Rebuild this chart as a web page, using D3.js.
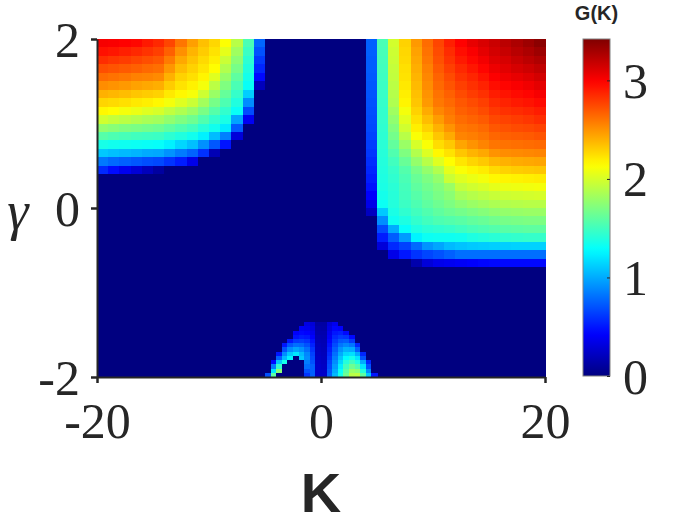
<!DOCTYPE html>
<html>
<head>
<meta charset="utf-8">
<script src="https://cdn.jsdelivr.net/npm/d3@7"></script>
<style>
  html, body { margin: 0; padding: 0; background: #fff; }
  svg { display: block; }
</style>
</head>
<body>
<div id="chart"></div>
<script>
// grid cell centres (K along columns, gamma along rows, top row first)
const kCenters = [-19.5,-18.5,-17.5,-16.5,-15.5,-14.5,-13.5,-12.5,-11.5,-10.5,-9.5,-8.5,-7.5,-6.5,-5.5,-4.5,-3.5,-2.5,-1.5,-0.5,
                  0.5,1.5,2.5,3.5,4.5,5.5,6.5,7.5,8.5,9.5,10.5,11.5,12.5,13.5,14.5,15.5,16.5,17.5,18.5,19.5];
const gammaCenters = [1.95,1.85,1.75,1.65,1.55,1.45,1.35,1.25,1.15,1.05,0.95,0.85,0.75,0.65,0.55,0.45,0.35,0.25,0.15,0.05,
                      -0.05,-0.15,-0.25,-0.35,-0.45,-0.55,-0.65,-0.75,-0.85,-0.95,-1.05,-1.15,-1.25,-1.35,-1.45,-1.55,-1.65,-1.75,-1.85,-1.95];

// G(K), one row per gamma
const gValues = [
  [3.02,3.01,2.99,2.97,2.91,2.86,2.76,2.60,2.46,2.35,2.27,2.13,1.90,1.53,0.77, 0,0,0,0,0,0,0,0,0, 0.75,1.53,1.99,2.29,2.48,2.63,2.76,2.89,2.99,3.07,3.12,3.17,3.22,3.27,3.32,3.38],
  [2.94,2.92,2.89,2.86,2.82,2.78,2.67,2.51,2.39,2.31,2.23,2.05,1.82,1.48,0.70, 0,0,0,0,0,0,0,0,0, 0.75,1.52,1.97,2.27,2.45,2.61,2.74,2.85,2.95,3.01,3.08,3.14,3.18,3.23,3.27,3.32],
  [2.84,2.81,2.79,2.76,2.73,2.70,2.58,2.43,2.34,2.26,2.19,1.96,1.75,1.43,0.62, 0,0,0,0,0,0,0,0,0, 0.74,1.51,1.96,2.26,2.43,2.59,2.72,2.82,2.91,2.97,3.03,3.10,3.13,3.18,3.22,3.26],
  [2.73,2.71,2.69,2.67,2.64,2.62,2.49,2.36,2.29,2.22,2.14,1.88,1.68,1.39,0.55, 0,0,0,0,0,0,0,0,0, 0.74,1.50,1.94,2.24,2.41,2.56,2.69,2.78,2.86,2.92,2.98,3.05,3.09,3.13,3.16,3.20],
  [2.63,2.61,2.59,2.56,2.55,2.53,2.40,2.29,2.24,2.17,2.03,1.79,1.60,1.35,0.45, 0,0,0,0,0,0,0,0,0, 0.73,1.49,1.93,2.23,2.39,2.54,2.66,2.74,2.82,2.87,2.93,3.00,3.04,3.07,3.10,3.14],
  [2.52,2.50,2.48,2.45,2.43,2.41,2.31,2.23,2.18,2.10,1.91,1.71,1.53,1.31,0.20, 0,0,0,0,0,0,0,0,0, 0.72,1.48,1.91,2.21,2.37,2.52,2.64,2.71,2.78,2.83,2.88,2.95,2.98,3.01,3.04,3.08],
  [2.40,2.38,2.36,2.33,2.31,2.29,2.21,2.16,2.11,1.97,1.80,1.62,1.46,1.12,0, 0,0,0,0,0,0,0,0,0, 0.71,1.47,1.89,2.19,2.35,2.50,2.61,2.67,2.74,2.79,2.83,2.90,2.93,2.96,2.98,3.02],
  [2.28,2.26,2.24,2.21,2.19,2.16,2.10,2.03,1.96,1.83,1.68,1.54,1.39,0.90,0, 0,0,0,0,0,0,0,0,0, 0.70,1.46,1.87,2.17,2.33,2.48,2.59,2.64,2.70,2.74,2.78,2.85,2.88,2.91,2.93,2.96],
  [2.16,2.14,2.10,2.07,2.03,2.00,1.93,1.87,1.80,1.69,1.57,1.45,1.31,0.68,0, 0,0,0,0,0,0,0,0,0, 0.69,1.45,1.82,2.10,2.29,2.42,2.54,2.60,2.67,2.70,2.74,2.80,2.83,2.85,2.87,2.90],
  [1.98,1.94,1.91,1.88,1.85,1.83,1.77,1.71,1.65,1.55,1.45,1.37,0.98,0.39,0, 0,0,0,0,0,0,0,0,0, 0.68,1.45,1.77,2.04,2.24,2.36,2.47,2.57,2.63,2.66,2.69,2.75,2.77,2.79,2.81,2.84],
  [1.77,1.74,1.71,1.69,1.67,1.65,1.60,1.55,1.50,1.41,1.34,1.22,0.73,0,0, 0,0,0,0,0,0,0,0,0, 0.67,1.44,1.72,1.98,2.19,2.29,2.40,2.50,2.59,2.61,2.64,2.70,2.72,2.74,2.75,2.77],
  [1.57,1.54,1.52,1.50,1.49,1.48,1.43,1.39,1.34,1.24,1.06,0.86,0.30,0,0, 0,0,0,0,0,0,0,0,0, 0.65,1.43,1.67,1.90,2.12,2.21,2.33,2.42,2.55,2.57,2.60,2.65,2.67,2.68,2.69,2.71],
  [1.36,1.34,1.33,1.32,1.31,1.30,1.24,1.15,1.07,0.91,0.72,0.49,0,0,0, 0,0,0,0,0,0,0,0,0, 0.63,1.42,1.61,1.80,2.00,2.12,2.25,2.32,2.44,2.50,2.55,2.60,2.61,2.62,2.63,2.64],
  [1.10,1.07,1.05,1.03,1.00,0.99,0.92,0.84,0.76,0.59,0.18,0,0,0,0, 0,0,0,0,0,0,0,0,0, 0.61,1.41,1.55,1.71,1.88,2.02,2.16,2.23,2.33,2.39,2.43,2.50,2.52,2.53,2.54,2.55],
  [0.83,0.78,0.75,0.72,0.69,0.67,0.60,0.52,0.35,0,0,0,0,0,0, 0,0,0,0,0,0,0,0,0, 0.58,1.40,1.50,1.63,1.78,1.90,2.03,2.14,2.22,2.28,2.32,2.38,2.40,2.42,2.43,2.44],
  [0.56,0.46,0.37,0.29,0.20,0.11,0,0,0,0,0,0,0,0,0, 0,0,0,0,0,0,0,0,0, 0.55,1.39,1.46,1.56,1.68,1.78,1.88,2.05,2.12,2.17,2.20,2.26,2.29,2.31,2.32,2.33],
  [0,0,0,0,0,0,0,0,0,0,0,0,0,0,0, 0,0,0,0,0,0,0,0,0, 0.52,1.38,1.44,1.53,1.63,1.70,1.78,1.96,2.03,2.07,2.10,2.16,2.17,2.18,2.19,2.20],
  [0,0,0,0,0,0,0,0,0,0,0,0,0,0,0, 0,0,0,0,0,0,0,0,0, 0.48,1.37,1.42,1.51,1.60,1.66,1.72,1.80,1.94,1.98,2.01,2.05,2.07,2.08,2.09,2.10],
  [0,0,0,0,0,0,0,0,0,0,0,0,0,0,0, 0,0,0,0,0,0,0,0,0, 0.42,1.35,1.41,1.50,1.57,1.63,1.69,1.75,1.85,1.89,1.92,1.95,1.97,1.98,1.99,2.00],
  [0,0,0,0,0,0,0,0,0,0,0,0,0,0,0, 0,0,0,0,0,0,0,0,0, 0.35,1.32,1.40,1.48,1.54,1.60,1.65,1.70,1.76,1.80,1.83,1.86,1.88,1.89,1.90,1.90],
  [0,0,0,0,0,0,0,0,0,0,0,0,0,0,0, 0,0,0,0,0,0,0,0,0, 0.22,1.10,1.37,1.44,1.50,1.55,1.60,1.64,1.67,1.70,1.73,1.76,1.78,1.79,1.80,1.80],
  [0,0,0,0,0,0,0,0,0,0,0,0,0,0,0, 0,0,0,0,0,0,0,0,0, 0,0.90,1.33,1.38,1.45,1.50,1.54,1.56,1.58,1.61,1.63,1.66,1.68,1.69,1.70,1.70],
  [0,0,0,0,0,0,0,0,0,0,0,0,0,0,0, 0,0,0,0,0,0,0,0,0, 0,0.68,1.00,1.30,1.38,1.42,1.44,1.46,1.49,1.52,1.54,1.56,1.58,1.59,1.60,1.60],
  [0,0,0,0,0,0,0,0,0,0,0,0,0,0,0, 0,0,0,0,0,0,0,0,0, 0,0.52,0.74,0.95,1.25,1.32,1.33,1.33,1.34,1.38,1.40,1.42,1.44,1.45,1.46,1.46],
  [0,0,0,0,0,0,0,0,0,0,0,0,0,0,0, 0,0,0,0,0,0,0,0,0, 0,0.30,0.56,0.65,0.78,0.92,0.98,1.05,1.08,1.10,1.11,1.12,1.12,1.13,1.13,1.13],
  [0,0,0,0,0,0,0,0,0,0,0,0,0,0,0, 0,0,0,0,0,0,0,0,0, 0,0,0.35,0.50,0.60,0.66,0.70,0.75,0.80,0.80,0.80,0.80,0.80,0.80,0.80,0.80],
  [0,0,0,0,0,0,0,0,0,0,0,0,0,0,0, 0,0,0,0,0,0,0,0,0, 0,0,0,0,0.15,0.30,0.36,0.38,0.40,0.42,0.44,0.45,0.45,0.45,0.45,0.45],
  [0,0,0,0,0,0,0,0,0,0,0,0,0,0,0,0,0,0,0,0,0,0,0,0,0,0,0,0,0,0,0,0,0,0,0,0,0,0,0,0],
  [0,0,0,0,0,0,0,0,0,0,0,0,0,0,0,0,0,0,0,0,0,0,0,0,0,0,0,0,0,0,0,0,0,0,0,0,0,0,0,0],
  [0,0,0,0,0,0,0,0,0,0,0,0,0,0,0,0,0,0,0,0,0,0,0,0,0,0,0,0,0,0,0,0,0,0,0,0,0,0,0,0],
  [0,0,0,0,0,0,0,0,0,0,0,0,0,0,0,0,0,0,0,0,0,0,0,0,0,0,0,0,0,0,0,0,0,0,0,0,0,0,0,0],
  [0,0,0,0,0,0,0,0,0,0,0,0,0,0,0,0,0,0,0,0,0,0,0,0,0,0,0,0,0,0,0,0,0,0,0,0,0,0,0,0],
  [0,0,0,0,0,0,0,0,0,0,0,0,0,0,0,0,0,0,0,0,0,0,0,0,0,0,0,0,0,0,0,0,0,0,0,0,0,0,0,0],
  [0,0,0,0,0,0,0,0,0,0,0,0,0,0,0,0,0,0,0,0,0,0,0,0,0,0,0,0,0,0,0,0,0,0,0,0,0,0,0,0],
  [0,0,0,0,0,0,0,0,0,0,0,0,0,0,0,0,0,0,0,0,0,0,0,0,0,0,0,0,0,0,0,0,0,0,0,0,0,0,0,0],
  [0,0,0,0,0,0,0,0,0,0,0,0,0,0,0,0,0,0,0,0,0,0,0,0,0,0,0,0,0,0,0,0,0,0,0,0,0,0,0,0],
  [0,0,0,0,0,0,0,0,0,0,0,0,0,0,0,0,0,0,0,0,0,0,0,0,0,0,0,0,0,0,0,0,0,0,0,0,0,0,0,0],
  [0,0,0,0,0,0,0,0,0,0,0,0,0,0,0,0,0,0,0,0,0,0,0,0,0,0,0,0,0,0,0,0,0,0,0,0,0,0,0,0],
  [0,0,0,0,0,0,0,0,0,0,0,0,0,0,0,0,0,0,0,0,0,0,0,0,0,0,0,0,0,0,0,0,0,0,0,0,0,0,0,0],
  [0,0,0,0,0,0,0,0,0,0,0,0,0,0,0,0,0,0,0,0,0,0,0,0,0,0,0,0,0,0,0,0,0,0,0,0,0,0,0,0]
];

// finer sampling of the two small lobes near K = 0, gamma = -2
const lobeK = [-4.75,-4.25,-3.75,-3.25,-2.75,-2.25,-1.75,-1.25,-0.75,-0.25,0.25,0.75,1.25,1.75,2.25,2.75,3.25,3.75,4.25,4.75];
const lobeGamma = [-1.325,-1.375,-1.425,-1.475,-1.525,-1.575,-1.625,-1.675,-1.725,-1.775,-1.825,-1.875,-1.925,-1.975];
const lobeValues = [
  [0,0,0,0,0,0,0,0,0,0, 0,0,0,0,0,0,0,0,0,0],
  [0,0,0,0,0,0,0,0.34,0.30,0.12, 0.12,0.30,0.38,0,0,0,0,0,0,0],
  [0,0,0,0,0,0,0.40,0.38,0.33,0.14, 0.13,0.33,0.44,0.42,0,0,0,0,0,0],
  [0,0,0,0,0,0.42,0.45,0.43,0.37,0.15, 0.15,0.37,0.50,0.53,0.45,0,0,0,0,0],
  [0,0,0,0,0,0.48,0.52,0.50,0.42,0.17, 0.16,0.40,0.56,0.62,0.60,0.45,0,0,0,0],
  [0,0,0,0,0.50,0.62,0.64,0.60,0.48,0.18, 0.17,0.44,0.62,0.72,0.74,0.62,0,0,0,0],
  [0,0,0,0.50,0.72,0.80,0.78,0.70,0.54,0.20, 0.18,0.48,0.68,0.82,0.88,0.82,0.55,0,0,0],
  [0,0,0,0.70,0.90,0.98,0.92,0.80,0.60,0.21, 0.19,0.52,0.74,0.92,1.02,1.00,0.75,0,0,0],
  [0,0,0.50,0.90,1.10,1.20,1.05,0.88,0.65,0.22, 0.20,0.56,0.80,1.00,1.15,1.18,1.00,0.55,0,0],
  [0,0,0.75,1.05,1.25,0,1.10,0.90,0.68,0.23, 0.21,0.60,0.85,1.08,1.28,1.35,1.20,0.70,0,0],
  [0,0.45,1.10,1.35,0,0,0,0.85,0.70,0.24, 0.22,0.65,0.90,1.15,1.40,1.50,1.38,1.00,0.55,0],
  [0,0.85,1.45,0,0,0,0,0.80,0.75,0.25, 0.23,0.68,0.95,1.23,1.50,1.65,1.55,1.20,0.70,0],
  [0,1.20,1.75,0,0,0,0,0.70,0.75,0.25, 0.24,0.72,1.00,1.30,1.58,1.80,1.75,1.40,0.90,0],
  [0.70,1.60,0,0,0,0,0,0.60,0.75,0.25, 0.25,0.75,1.05,1.35,1.65,1.90,1.92,1.60,1.10,0.50]
];

const xTicks = [-20, 0, 20];
const yTicks = [-2, 0, 2];
const cbarTicks = [0, 1, 2, 3];
const cMax = 3.42;

const W = 700, H = 525;
const plot = {left: 97, right: 545, top: 39, bottom: 377};
const cbar = {left: 583, right: 610, top: 39, bottom: 376};
const ink = "#262626";
const serif = "'Liberation Serif', 'DejaVu Serif', serif";
const sans = "'Liberation Sans', Arial, sans-serif";

// MATLAB-style jet colormap
function jet(t) {
    const c = v => Math.max(0, Math.min(1, v));
    const r = c(Math.min(4 * t - 1.5, -4 * t + 4.5));
    const g = c(Math.min(4 * t - 0.5, -4 * t + 3.5));
    const b = c(Math.min(4 * t + 0.5, -4 * t + 2.5));
    return d3.rgb(r * 255, g * 255, b * 255).formatHex();
}
const color = d3.scaleSequential(jet).domain([0, cMax]).clamp(true);

const x = d3.scaleLinear().domain([-20, 20]).range([plot.left, plot.right]);
const y = d3.scaleLinear().domain([-2, 2]).range([plot.bottom, plot.top]);

const svg = d3.select("#chart").append("svg")
    .attr("width", W)
    .attr("height", H);

// draw one grid of cells
function drawCells(kc, gc, values, cls) {
    const dk = Math.abs(kc[1] - kc[0]);
    const dg = Math.abs(gc[1] - gc[0]);
    const cells = [];
    gc.forEach((g, i) => kc.forEach((k, j) => cells.push({k, g, v: values[i][j]})));
    svg.append("g").attr("class", cls)
        .attr("shape-rendering", "crispEdges")
        .selectAll("rect")
        .data(cells)
        .enter().append("rect")
        .attr("x", d => x(d.k - dk / 2))
        .attr("y", d => y(d.g + dg / 2))
        .attr("width", d => x(d.k + dk / 2) - x(d.k - dk / 2) + 0.5)
        .attr("height", d => y(d.g - dg / 2) - y(d.g + dg / 2) + 0.5)
        .attr("fill", d => color(d.v));
}

drawCells(kCenters, gammaCenters, gValues, "main");
drawCells(lobeK, lobeGamma, lobeValues, "lobes");

// axes
const xAxis = svg.append("g")
    .attr("transform", "translate(0," + plot.bottom + ")")
    .call(d3.axisBottom(x).tickValues(xTicks).tickSize(6).tickSizeOuter(0).tickFormat(d3.format("d")));
const yAxis = svg.append("g")
    .attr("transform", "translate(" + plot.left + ",0)")
    .call(d3.axisLeft(y).tickValues(yTicks).tickSize(6).tickSizeOuter(0).tickFormat(d3.format("d")));

[xAxis, yAxis].forEach(a => {
    a.select(".domain").attr("stroke", ink).attr("stroke-width", 2);
    a.selectAll(".tick line").attr("stroke", ink).attr("stroke-width", 2.5);
    a.selectAll(".tick text")
        .attr("fill", ink)
        .attr("font-family", serif)
        .attr("font-size", 50)
        .text(d => (d < 0 ? "-" : "") + Math.abs(d));
});
xAxis.selectAll(".tick text").attr("y", 61).attr("dy", 0);
yAxis.selectAll(".tick text").attr("x", -17).attr("dy", "0.34em");

// axis titles
svg.append("text")
    .attr("x", (plot.left + plot.right) / 2)
    .attr("y", 512)
    .attr("text-anchor", "middle")
    .attr("font-family", sans)
    .attr("font-weight", "bold")
    .attr("font-size", 56)
    .attr("fill", ink)
    .text("K");

svg.append("text")
    .attr("x", 18)
    .attr("y", 229)
    .attr("text-anchor", "middle")
    .attr("font-family", serif)
    .attr("font-style", "italic")
    .attr("font-size", 54)
    .attr("fill", ink)
    .text("γ");

// colour bar
const cy = d3.scaleLinear().domain([0, cMax]).range([cbar.bottom, cbar.top]);
const grad = svg.append("defs").append("linearGradient")
    .attr("id", "jetgrad")
    .attr("x1", 0).attr("y1", 1).attr("x2", 0).attr("y2", 0);
grad.selectAll("stop")
    .data(d3.range(0, 1.0001, 0.02))
    .enter().append("stop")
    .attr("offset", d => d)
    .attr("stop-color", d => jet(d));

svg.append("rect")
    .attr("x", cbar.left)
    .attr("y", cbar.top)
    .attr("width", cbar.right - cbar.left)
    .attr("height", cbar.bottom - cbar.top)
    .attr("fill", "url(#jetgrad)")
    .attr("stroke", "#808080")
    .attr("stroke-width", 1);

const cAxis = svg.append("g")
    .attr("transform", "translate(" + cbar.right + ",0)")
    .call(d3.axisRight(cy).tickValues(cbarTicks).tickSize(-3).tickSizeOuter(0).tickFormat(d3.format("d")));
cAxis.select(".domain").remove();
cAxis.selectAll(".tick line").attr("stroke", ink).attr("stroke-width", 1);
cAxis.selectAll(".tick text")
    .attr("x", 13)
    .attr("dy", "0.34em")
    .attr("fill", ink)
    .attr("font-family", serif)
    .attr("font-size", 50);

svg.append("text")
    .attr("x", (cbar.left + cbar.right) / 2)
    .attr("y", 20)
    .attr("text-anchor", "middle")
    .attr("font-family", sans)
    .attr("font-weight", "bold")
    .attr("font-size", 20)
    .attr("fill", ink)
    .text("G(K)");
</script>
</body>
</html>
